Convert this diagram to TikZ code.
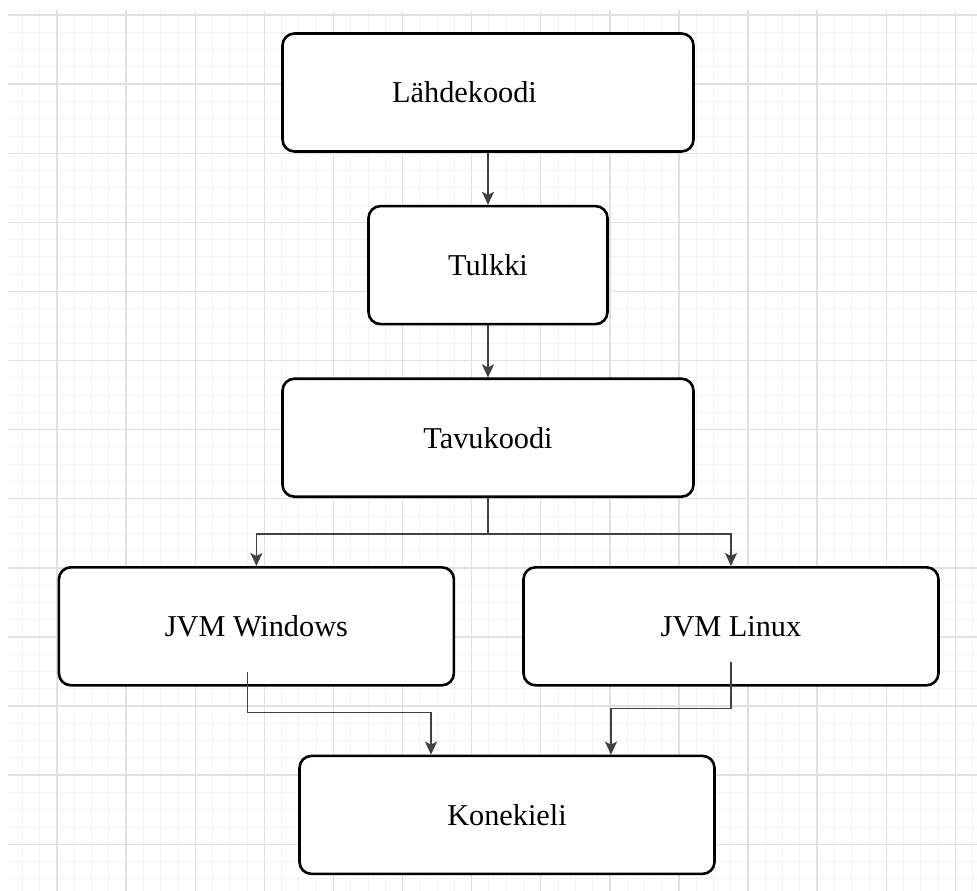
\documentclass[tikz,border=0pt]{standalone}
\usepackage{fontspec}
\setmainfont{Liberation Serif}
\usetikzlibrary{positioning, arrows.meta}

\begin{document}
\begin{tikzpicture}[x=1pt, y=-1pt,
     node distance = 52pt and 67pt,
        box/.style = {rectangle, draw, rounded corners=12pt, line width=2.6pt, fill=white,
                      minimum width=411pt, minimum height=118pt, inner sep=0pt,
                      font=\fontsize{30.3}{36}\selectfont},
       line/.style = {draw=black!75, line width=1.6pt},
        arr/.style = {line, -{Stealth[length=13pt,width=12pt,inset=3pt]}},
      minor/.style = {draw=black!5, line width=0.8pt},
      major/.style = {draw=black!12, line width=1.4pt}
                        ]
\useasboundingbox[fill=white] (0,0) rectangle (977,891);
\foreach \i in {0,...,55} \draw[minor] (22.45+17.275*\i,10) -- (22.45+17.275*\i,891);
\foreach \i in {0,...,50} \draw[minor] (8,15+17.275*\i) -- (977,15+17.275*\i);
\foreach \i in {0,...,13} \draw[major] (57+69.1*\i,10) -- (57+69.1*\i,891);
\foreach \i in {0,...,12} \draw[major] (8,15+69.1*\i) -- (977,15+69.1*\i);
\node (src)   [box] at (488,92.5) {Lähdekoodi\hspace*{47pt}};
\node (tulkki)[box, minimum width=239pt, below=of src] {Tulkki};
\node (tavu)  [box, below=of tulkki] {Tavukoodi};
\node (win)   [box, minimum width=395pt, below left=68pt and -174pt of tavu] {JVM Windows};
\node (linux) [box, minimum width=415pt, right=of win] {JVM Linux};
\node (kone)  [box, minimum width=415pt, below right=68pt and -157pt of win] {Konekieli};
\draw[arr] (src) to (tulkki);
\draw[arr] (tulkki) to (tavu);
\draw[line] (tavu.south) -- ++(0,-36pt) coordinate (fork);
\draw[arr] (fork) -| (win.north);
\draw[arr] (fork) -| (linux.north);
\draw[arr] ([xshift=-9pt,yshift=15pt]win.south) -- ++(0,-41pt) -| ([xshift=-76pt]kone.north);
\draw[arr] ([yshift=25pt]linux.south) -- ++(0,-47pt) -| ([xshift=104pt]kone.north);
\end{tikzpicture}
\end{document}
